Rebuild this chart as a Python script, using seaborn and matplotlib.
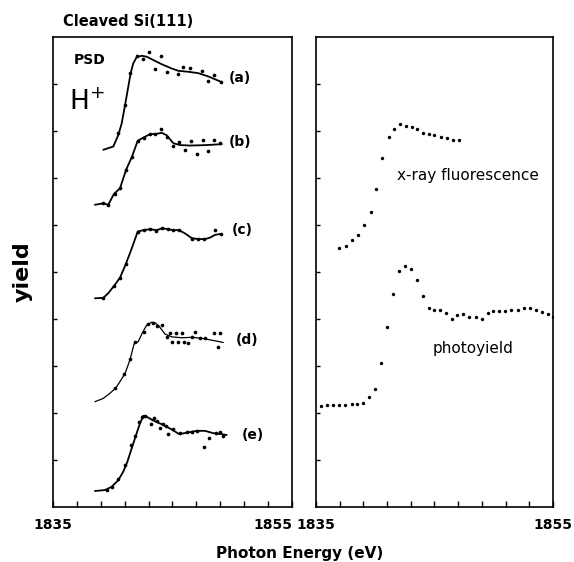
import matplotlib
matplotlib.use("Agg")
import matplotlib.pyplot as plt
import seaborn as sns

sns.set_style("ticks")
plt.rcParams["font.family"] = ["DejaVu Sans"]
plt.rcParams["text.color"] = "black"
plt.rcParams["axes.edgecolor"] = "black"
plt.rcParams["axes.labelcolor"] = "black"
plt.rcParams["xtick.color"] = "black"
plt.rcParams["ytick.color"] = "black"

# ---- PSD H+ spectra (left panel), energy in eV, yield in arbitrary offset units ----
a_fit_x = [1839.21, 1840.05, 1840.46, 1840.75, 1841.03, 1841.30, 1841.50, 1841.72, 1842.00,
           1842.42, 1842.84, 1843.39, 1844.10, 1844.93, 1845.49, 1846.32, 1847.16, 1848.00, 1849.12]
a_fit_y = [7.60, 7.67, 7.91, 8.16, 8.55, 8.94, 9.23, 9.44, 9.57,
           9.60, 9.58, 9.51, 9.42, 9.33, 9.28, 9.26, 9.23, 9.16, 9.04]
a_pts_x = [1840.46, 1841.03, 1841.44, 1842.00, 1842.56, 1843.03, 1843.54, 1844.04,
           1844.51, 1845.44, 1845.90, 1846.46, 1847.49, 1848.00, 1848.50, 1849.06]
a_pts_y = [7.96, 8.55, 9.23, 9.60, 9.53, 9.67, 9.32, 9.60,
           9.25, 9.21, 9.37, 9.33, 9.28, 9.06, 9.19, 9.05]

b_fit_x = [1838.51, 1839.21, 1839.63, 1840.10, 1840.61, 1841.11, 1841.59, 1842.09, 1842.56,
           1843.12, 1843.68, 1844.10, 1844.51, 1845.07, 1845.63, 1846.46, 1847.86, 1849.12]
b_fit_y = [6.43, 6.46, 6.43, 6.66, 6.78, 7.17, 7.44, 7.79, 7.86,
           7.93, 7.94, 7.96, 7.91, 7.74, 7.70, 7.69, 7.70, 7.72]
b_pts_x = [1839.21, 1839.63, 1840.19, 1840.61, 1841.11, 1841.59, 1842.09, 1842.64, 1843.12,
           1843.54, 1844.04, 1844.56, 1845.07, 1845.57, 1846.05, 1846.55, 1847.03, 1847.53,
           1848.00, 1848.50, 1848.97]
b_pts_y = [6.46, 6.43, 6.66, 6.78, 7.17, 7.44, 7.79, 7.86, 7.93,
           7.93, 8.04, 7.88, 7.68, 7.77, 7.60, 7.79, 7.51, 7.81,
           7.57, 7.81, 7.74]

c_fit_x = [1838.51, 1839.21, 1839.63, 1840.13, 1840.61, 1841.08, 1841.59, 1842.09, 1842.56,
           1843.12, 1843.68, 1844.15, 1844.65, 1845.07, 1845.54, 1846.05, 1846.61, 1847.16,
           1847.72, 1848.14, 1848.56, 1849.06]
c_fit_y = [4.44, 4.45, 4.55, 4.71, 4.88, 5.16, 5.50, 5.86, 5.89,
           5.91, 5.89, 5.93, 5.91, 5.89, 5.89, 5.82, 5.72, 5.70,
           5.70, 5.73, 5.79, 5.81]
c_pts_x = [1839.21, 1840.13, 1840.61, 1841.08, 1842.09, 1842.64, 1843.12, 1843.59, 1844.10,
           1844.60, 1845.07, 1845.54, 1846.61, 1847.16, 1847.66, 1848.56, 1849.06]
c_pts_y = [4.45, 4.71, 4.88, 5.16, 5.86, 5.89, 5.91, 5.88, 5.93,
           5.91, 5.89, 5.89, 5.70, 5.70, 5.70, 5.89, 5.81]

d_fit_x = [1838.51, 1839.21, 1839.77, 1840.25, 1840.61, 1841.03, 1841.44, 1841.80, 1842.14,
           1842.47, 1842.84, 1843.26, 1843.54, 1843.87, 1844.37, 1844.93, 1845.77, 1846.61,
           1847.44, 1848.28, 1849.25]
d_fit_y = [2.24, 2.31, 2.42, 2.53, 2.67, 2.84, 3.13, 3.48, 3.52,
           3.70, 3.87, 3.93, 3.92, 3.85, 3.68, 3.62, 3.60, 3.61,
           3.59, 3.55, 3.50]
d_pts_x = [1840.19, 1840.97, 1841.44, 1841.86, 1842.64, 1842.98, 1843.39, 1843.68, 1844.15,
           1844.51, 1844.79, 1844.98, 1845.27, 1845.49, 1845.77, 1845.99, 1846.27, 1846.66,
           1846.88, 1847.30, 1847.72, 1848.50, 1848.83, 1848.97]
d_pts_y = [2.53, 2.84, 3.14, 3.50, 3.73, 3.89, 3.91, 3.84, 3.87,
           3.61, 3.70, 3.52, 3.70, 3.50, 3.70, 3.50, 3.48, 3.61,
           3.73, 3.59, 3.59, 3.70, 3.40, 3.70]

e_fit_x = [1838.51, 1839.35, 1839.91, 1840.46, 1840.88, 1841.22, 1841.59, 1841.95, 1842.28,
           1842.56, 1842.84, 1843.39, 1844.10, 1844.79, 1845.57, 1846.19, 1847.02, 1847.72,
           1848.41, 1849.12, 1849.54]
e_fit_y = [0.34, 0.36, 0.43, 0.57, 0.75, 0.96, 1.25, 1.53, 1.78,
           1.94, 1.92, 1.84, 1.76, 1.67, 1.55, 1.58, 1.62, 1.62,
           1.57, 1.55, 1.53]
e_pts_x = [1839.49, 1839.91, 1840.46, 1841.03, 1841.50, 1841.86, 1842.22, 1842.42, 1842.70,
           1843.18, 1843.45, 1843.68, 1843.95, 1844.18, 1844.46, 1844.65, 1845.02, 1845.63,
           1846.19, 1846.61, 1847.02, 1847.64, 1848.08, 1848.64, 1848.97, 1849.20]
e_pts_y = [0.36, 0.43, 0.60, 0.89, 1.32, 1.50, 1.81, 1.92, 1.94,
           1.77, 1.90, 1.83, 1.67, 1.77, 1.73, 1.55, 1.66, 1.57,
           1.59, 1.60, 1.62, 1.28, 1.46, 1.57, 1.59, 1.52]

psd_labels = ["(a)", "(b)", "(c)", "(d)", "(e)"]
psd_label_x = [1849.73, 1849.73, 1849.98, 1850.31, 1850.82]
psd_label_y = [9.13, 7.77, 5.89, 3.55, 1.53]

# ---- right panel ----
xrf_x = [1836.97, 1837.51, 1838.06, 1838.57, 1839.08, 1839.62, 1840.06, 1840.59, 1841.14,
         1841.58, 1842.09, 1842.59, 1843.08, 1843.55, 1844.00, 1844.54, 1844.98, 1845.52,
         1846.03, 1846.54, 1847.09]
xrf_y = [5.50, 5.56, 5.67, 5.79, 6.00, 6.28, 6.76, 7.42, 7.88,
         8.04, 8.14, 8.11, 8.08, 8.04, 7.96, 7.93, 7.91, 7.88,
         7.84, 7.81, 7.81]

py_x = [1835.40, 1835.90, 1836.41, 1836.94, 1837.45, 1838.01, 1838.49, 1838.99, 1839.50,
        1840.00, 1840.49, 1841.02, 1841.52, 1841.98, 1842.51, 1843.02, 1843.50, 1844.00,
        1844.51, 1844.96, 1845.46, 1845.97, 1846.45, 1846.92, 1847.43, 1847.94, 1848.48,
        1848.98, 1849.49, 1849.96, 1850.47, 1850.95, 1851.46, 1852.02, 1852.55, 1853.05,
        1853.56, 1854.05, 1854.55, 1855.03]
py_y = [2.15, 2.16, 2.17, 2.17, 2.18, 2.19, 2.19, 2.22, 2.33,
        2.51, 3.07, 3.82, 4.54, 5.03, 5.13, 5.06, 4.83, 4.49,
        4.24, 4.19, 4.19, 4.12, 4.01, 4.09, 4.11, 4.05, 4.05,
        3.99, 4.12, 4.17, 4.16, 4.17, 4.19, 4.19, 4.24, 4.23,
        4.19, 4.14, 4.10, 4.05]

x_ticks = [1835, 1837, 1839, 1841, 1843, 1845, 1847, 1849, 1851, 1853, 1855]
x_ticklabels = ["1835", "", "", "", "", "", "", "", "", "", "1855"]
y_ticks = [1, 2, 3, 4, 5, 6, 7, 8, 9]

fig = plt.figure(figsize=(5.74, 5.62), dpi=100)
ax1 = fig.add_axes([0.0923, 0.0979, 0.4164, 0.8363])
ax2 = fig.add_axes([0.5505, 0.0979, 0.4129, 0.8363])

spectra = [
    (a_fit_x, a_fit_y, a_pts_x, a_pts_y, 1.3),
    (b_fit_x, b_fit_y, b_pts_x, b_pts_y, 1.3),
    (c_fit_x, c_fit_y, c_pts_x, c_pts_y, 1.3),
    (d_fit_x, d_fit_y, d_pts_x, d_pts_y, 0.9),
    (e_fit_x, e_fit_y, e_pts_x, e_pts_y, 1.3),
]
for fx, fy, px, py, lw in spectra:
    sns.lineplot(x=fx, y=fy, ax=ax1, color="black", lw=lw, estimator=None, sort=False)
    sns.scatterplot(x=px, y=py, ax=ax1, color="black", s=7, linewidth=0)

for lab, lx, ly in zip(psd_labels, psd_label_x, psd_label_y):
    ax1.text(lx, ly, lab, fontsize=10, fontweight="bold", ha="left", va="center")

ax1.text(1836.75, 9.51, "PSD", fontsize=10, fontweight="bold", ha="left", va="center")
ax1.text(1836.35, 8.45, r"H$^{+}$", fontsize=19, ha="left", va="baseline")

sns.scatterplot(x=xrf_x, y=xrf_y, ax=ax2, color="black", s=6, linewidth=0)
sns.scatterplot(x=py_x, y=py_y, ax=ax2, color="black", s=6, linewidth=0)
ax2.text(1841.84, 7.06, "x-ray fluorescence", fontsize=11, ha="left", va="center")
ax2.text(1844.87, 3.38, "photoyield", fontsize=11, ha="left", va="center")

for ax in (ax1, ax2):
    ax.set_xlim(1835, 1855)
    ax.set_ylim(0, 10)
    ax.set_xticks(x_ticks)
    ax.set_xticklabels(x_ticklabels, fontsize=10, fontweight="bold")
    ax.set_yticks(y_ticks)
    ax.set_yticklabels([])
    ax.tick_params(axis="x", direction="in", length=4.5, width=1, pad=8, top=False,
                   colors="black")
    ax.tick_params(axis="y", direction="in", length=3, width=1, right=False,
                   colors="black")
    for sp in ax.spines.values():
        sp.set_visible(True)
        sp.set_linewidth(1.2)
        sp.set_color("black")
    ax.set_xlabel("")
    ax.set_ylabel("")

ax1.get_xticklabels()[-1].set_ha("right")

ax1.set_ylabel("yield", fontsize=16, fontweight="bold", va="center", color="black")
ax1.yaxis.set_label_coords(-0.126, 0.5)

fig.text(0.1098, 0.9626, "Cleaved Si(111)", fontsize=10.5, fontweight="bold",
         ha="left", va="center", color="black")
fig.text(0.5226, 0.016, "Photon Energy (eV)", fontsize=11, fontweight="bold",
         ha="center", va="center", color="black")

fig.savefig("out.png", dpi=100)
